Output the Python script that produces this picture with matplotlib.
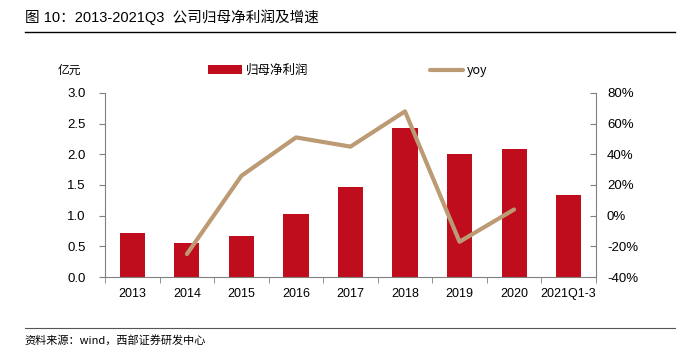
import matplotlib
matplotlib.use("Agg")
import matplotlib.pyplot as plt
from matplotlib.ticker import FuncFormatter, FixedLocator
import numpy as np

plt.rcParams['font.family'] = ['Liberation Sans', 'Noto Sans CJK SC', 'DejaVu Sans']

categories = ['2013', '2014', '2015', '2016', '2017', '2018', '2019', '2020', '2021Q1-3']
profit = [0.72, 0.55, 0.67, 1.03, 1.47, 2.43, 2.00, 2.09, 1.34]
yoy_years = ['2014', '2015', '2016', '2017', '2018', '2019', '2020']
yoy = [-25, 26, 51, 45, 68, -17, 4]

bar_color = '#C00D1E'
line_color = '#BC9A74'
spine_color = '#808080'

fig = plt.figure(figsize=(6.92, 3.52), dpi=100)
ax = fig.add_axes([0.152, 0.213, 0.709, 0.523])
ax2 = ax.twinx()

x = np.arange(len(categories))
bars = ax.bar(x, profit, width=0.46, color=bar_color, zorder=2)
xi = [categories.index(y) for y in yoy_years]
line, = ax2.plot(xi, yoy, color=line_color, lw=3, solid_capstyle='round', zorder=3)
ax2.set_zorder(ax.get_zorder() + 1)
ax.patch.set_visible(False)

ax.set_xlim(-0.5, len(categories) - 0.5)
ax.set_ylim(0, 3.0)
ax.set_yticks(np.arange(0, 3.01, 0.5))
ax.yaxis.set_major_formatter(FuncFormatter(lambda v, p: f'{v:.1f}'))
ax2.set_ylim(-40, 80)
ax2.set_yticks(np.arange(-40, 81, 20))
ax2.yaxis.set_major_formatter(FuncFormatter(lambda v, p: f'{v:.0f}%'))

ax.set_xticks(x)
ax.set_xticklabels(categories)
ax.xaxis.set_minor_locator(FixedLocator(np.arange(-0.5, len(categories), 1.0)))
ax.tick_params(axis='x', which='major', length=0, labelsize=9, pad=8)
ax.tick_params(axis='x', which='minor', length=4, direction='out', color=spine_color)
ax.tick_params(axis='y', length=4, direction='out', color=spine_color, labelsize=9.5, pad=10)
ax2.tick_params(axis='y', length=4, direction='in', color=spine_color, labelsize=9.5, pad=8)

for a in (ax, ax2):
    a.spines['top'].set_visible(False)
    for s in ('left', 'right', 'bottom'):
        a.spines[s].set_color(spine_color)
        a.spines[s].set_linewidth(0.8)
ax.spines['right'].set_visible(False)
ax2.spines['left'].set_visible(False)
ax2.spines['bottom'].set_visible(False)

fig.legend([bars, line], ['归母净利润', 'yoy'], loc='center', bbox_to_anchor=(0.503, 0.8),
           ncol=2, frameon=False, columnspacing=9.7, handlelength=2.7,
           handletextpad=0.3, prop={'family': ['Noto Sans CJK SC', 'Liberation Sans'], 'size': 9})

fig.text(0.084, 0.80, '亿元', fontsize=8.5, ha='left', va='center',
         family=['Noto Sans CJK SC'])

fig.text(0.036, 0.952, '图 10：2013-2021Q3  公司归母净利润及增速', fontsize=10.5,
         ha='left', va='center', family=['Liberation Sans', 'Noto Sans CJK SC'])
fig.add_artist(plt.Line2D([0.036, 0.976], [0.909, 0.909], color='black', lw=1))
fig.add_artist(plt.Line2D([0.036, 0.976], [0.068, 0.068], color='#555555', lw=0.8))
fig.text(0.036, 0.033, '资料来源：wind，西部证券研发中心', fontsize=8,
         ha='left', va='center', family=['Noto Sans CJK SC', 'Liberation Sans'])

fig.savefig('out.png', dpi=100)
